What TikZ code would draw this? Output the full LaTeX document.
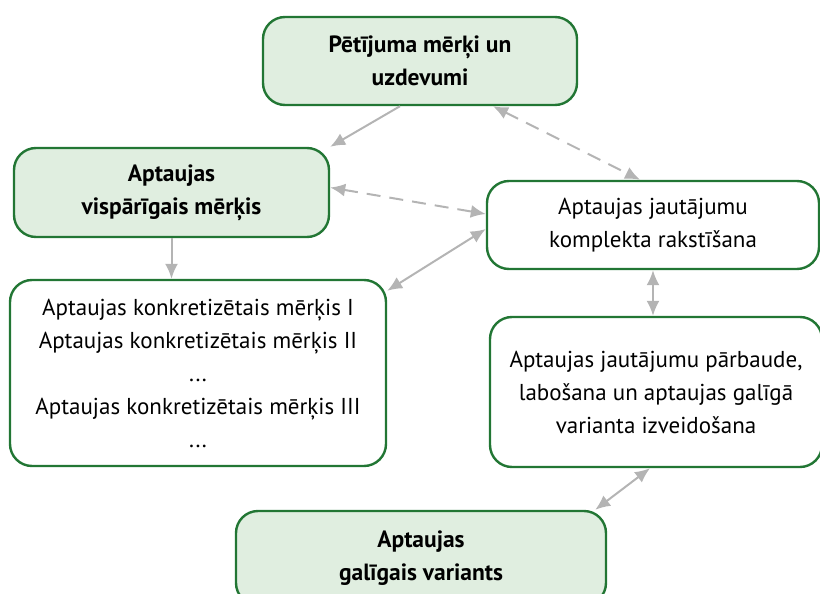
\documentclass[tikz,border=0pt]{standalone}
\usepackage{fontspec}
\setmainfont{PT Sans}
\usepackage{tikz}
\usetikzlibrary{arrows.meta}

\definecolor{boxline}{RGB}{34,118,52}
\definecolor{boxfill}{RGB}{224,238,224}
\definecolor{linkgray}{RGB}{180,180,180}

\tikzset{
  stagebox/.style={draw=boxline, line width=2.4pt, rounded corners=22pt,
    align=center, inner sep=0pt, font=\fontsize{23}{33}\selectfont},
  keybox/.style={stagebox, fill=boxfill, font=\fontsize{23.5}{33}\selectfont\bfseries},
  link/.style={draw=linkgray, line width=2pt, -{Latex[length=15pt,width=13pt]}},
  twoway/.style={link, {Latex[length=15pt,width=13pt]}-{Latex[length=15pt,width=13pt]}},
  hint/.style={twoway, dash pattern=on 14pt off 9pt}
}

\begin{document}
\begin{tikzpicture}[x=1pt,y=-1pt]
  \useasboundingbox (0,0) rectangle (820,594);

  \path
    (420,61)    node[keybox, minimum width=314pt, minimum height=88pt] (goal) {Pētījuma mērķi un\\uzdevumi}
    (171.5,192.5) node[keybox, minimum width=315pt, minimum height=89pt] (general) {Aptaujas\\vispārīgais mērķis}
    (198,373)   node[stagebox, minimum width=376pt, minimum height=186pt] (specific)
      {Aptaujas konkretizētais mērķis I\\Aptaujas konkretizētais mērķis II\\...\\Aptaujas konkretizētais mērķis III\\...}
    (653,225)   node[stagebox, minimum width=332pt, minimum height=88pt] (writing) {Aptaujas jautājumu\\komplekta rakstīšana}
    (656,392)   node[stagebox, minimum width=332pt, minimum height=150pt] (review)
      {Aptaujas jautājumu pārbaude,\\labošana un aptaujas galīgā\\varianta izveidošana}
    (421,558)   node[keybox, minimum width=370pt, minimum height=94pt] (final) {Aptaujas\\galīgais variants};

  \draw[link] ([xshift=-20pt]goal.south) -- (general.north east);
  \draw[hint] ([xshift=73pt]goal.south) -- ([xshift=-13pt]writing.north);
  \draw[hint] ([yshift=5pt]general.east) -- ([yshift=11pt]writing.west);
  \draw[twoway] ([yshift=-12pt]specific.north east) -- ([yshift=-4pt]writing.west);
  \draw[link] (general.south) -- (general.south |- specific.north);
  \draw[twoway] (writing.south) -- (writing.south |- review.north);
  \draw[twoway] ([xshift=-6pt]review.south) -- ([xshift=-12pt]final.north east);
\end{tikzpicture}
\end{document}
